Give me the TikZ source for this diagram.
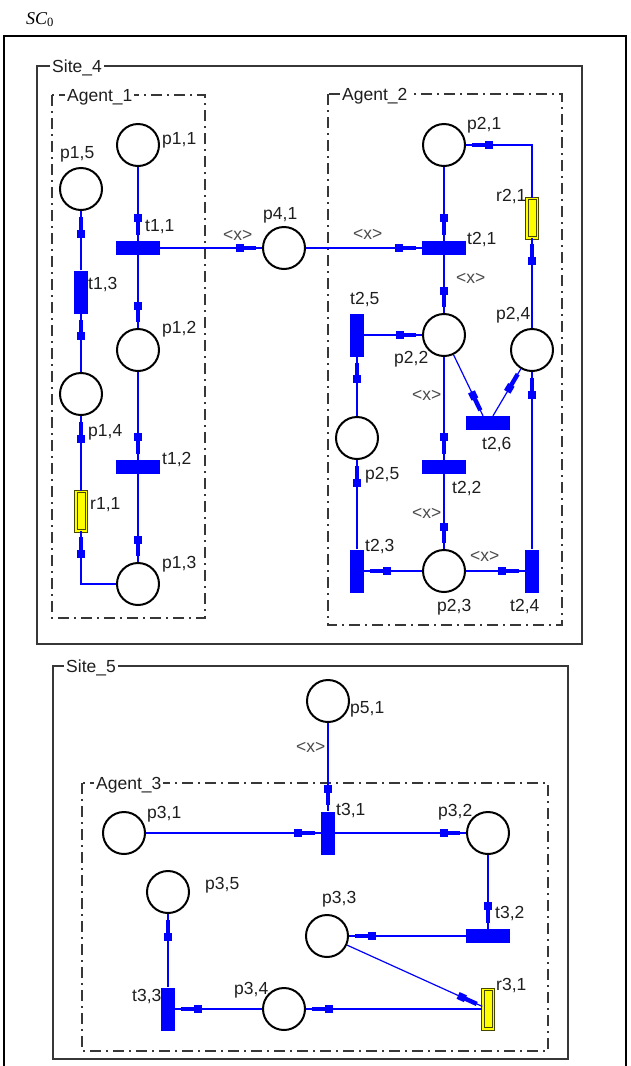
\documentclass[tikz,border=0pt]{standalone}
\usepackage{fontspec}
\setmainfont{Liberation Sans}
\newfontfamily\titlefont{Liberation Serif}
\usetikzlibrary{decorations.markings}

\definecolor{pnblue}{RGB}{0,0,255}
\definecolor{pnyellow}{RGB}{255,255,0}
\definecolor{pnolive}{RGB}{70,70,0}
\definecolor{boxgray}{RGB}{55,55,55}
\definecolor{txt}{RGB}{30,30,30}
\definecolor{inscr}{RGB}{75,75,75}

\begin{document}
\begin{tikzpicture}[x=1pt,y=-1pt,
  place/.style={circle, draw=black, line width=2pt, fill=white, minimum size=42pt, inner sep=0pt},
  htrans/.style={rectangle, fill=pnblue, minimum width=44pt, minimum height=14pt, inner sep=0pt},
  vtrans/.style={rectangle, fill=pnblue, minimum width=14pt, minimum height=43pt, inner sep=0pt},
  resource/.style={rectangle, draw=pnolive, line width=1pt, double=pnyellow, double distance=1.5pt,
                   fill=pnyellow, minimum width=10.5pt, minimum height=39.5pt, inner sep=0pt},
  lbl/.style={anchor=base west, inner sep=0pt, font=\fontsize{17.5}{20}\selectfont, text=txt},
  insc/.style={lbl, text=inscr},
  regtitle/.style={anchor=base west, inner xsep=2pt, inner ysep=1pt, fill=white,
                   font=\fontsize{17.5}{20}\selectfont, text=txt},
  sitebox/.style={draw=boxgray, line width=1.4pt},
  agentbox/.style={draw=boxgray, line width=1.2pt, dash pattern=on 11pt off 5pt on 2pt off 5pt},
  pnarc/.style={draw=pnblue, line width=1.2pt, postaction={decorate},
    decoration={markings, mark=at position -6pt with {
      \fill[pnblue] (-13pt,-2.2pt) rectangle (0pt,2.2pt);
      \fill[pnblue] (-20.5pt,-3.7pt) rectangle (-12.5pt,3.7pt);}}}
]
\useasboundingbox (0,0) rectangle (630,1066);

% caption
\node[anchor=base west, inner sep=0pt, font=\titlefont\itshape\fontsize{18}{20}\selectfont] (cap)
  at (26,24) {SC\textsubscript{\upshape 0}};

% outer frame (open at the bottom)
\draw[line width=2.4pt] (4,1080) -- (4,36) -- (626,36) -- (626,1080);

% sites and agents
\draw[sitebox] (37,66) rectangle (582,644);
\draw[agentbox] (52,95) rectangle (205,618);
\draw[agentbox] (328,94) rectangle (562,625);
\draw[sitebox] (53,666) rectangle (568,1059);
\draw[agentbox] (82,783) rectangle (548,1051);

\node[regtitle] (site4) at (50,72) {Site\_4};
\node[regtitle] (agent1) at (65,101) {Agent\_1};
\node[regtitle] (agent2) at (340,100) {Agent\_2};
\node[regtitle] (site5) at (64,672) {Site\_5};
\node[regtitle] (agent3) at (94,789) {Agent\_3};

% ---- Agent_1 ----
\node[place] (p11) at (138,145) {};
\node[place] (p15) at (81,189) {};
\node[htrans] (t11) at (138,248) {};
\node[vtrans] (t13) at (81,292) {};
\node[place] (p12) at (138,350) {};
\node[place] (p14) at (81,394) {};
\node[htrans] (t12) at (138,467) {};
\node[resource] (r11) at (81,511) {};
\node[place] (p13) at (138,584) {};

% ---- shared place ----
\node[place] (p41) at (284,248) {};

% ---- Agent_2 ----
\node[place] (p21) at (444,145) {};
\node[resource] (r21) at (532,218) {};
\node[htrans] (t21) at (444,248) {};
\node[place] (p22) at (444,335) {};
\node[vtrans] (t25) at (357,335) {};
\node[place] (p24) at (532,350) {};
\node[htrans] (t26) at (488,423) {};
\node[place] (p25) at (357,438) {};
\node[htrans] (t22) at (444,467) {};
\node[vtrans] (t23) at (357,571) {};
\node[place] (p23) at (444,571) {};
\node[vtrans] (t24) at (532,571) {};

% ---- Site_5 / Agent_3 ----
\node[place] (p51) at (328,701) {};
\node[vtrans] (t31) at (328,833) {};
\node[place] (p31) at (124,833) {};
\node[place] (p32) at (488,833) {};
\node[htrans] (t32) at (488,936) {};
\node[place] (p33) at (327,936) {};
\node[resource] (r31) at (488,1009) {};
\node[place] (p34) at (284,1009) {};
\node[vtrans] (t33) at (168,1009) {};
\node[place] (p35) at (168,892) {};

% ---- arcs ----
\draw[pnarc] (p11) -- (t11);
\draw[pnarc] (t11) -- (p12);
\draw[pnarc] (t11) -- (p41);
\draw[pnarc] (p41) -- (t21);
\draw[pnarc] (p12) -- (t12);
\draw[pnarc] (t12) -- (p13);
\draw[pnarc] (p13) -| (r11);
\draw[pnarc] (r11) -- (p14);
\draw[pnarc] (p14) -- (t13);
\draw[pnarc] (t13) -- (p15);

\draw[pnarc] (p21) -- (t21);
\draw[pnarc] (t21) -- (p22);
\draw[pnarc] (t25) -- (p22);
\draw[pnarc] (p25) -- (t25);
\draw[pnarc] (t23) -- (p25);
\draw[pnarc] (p23) -- (t23);
\draw[pnarc] (p22) -- (t22);
\draw[pnarc] (t22) -- (p23);
\draw[pnarc] (p23) -- (t24);
\draw[pnarc] (t24) -- (p24);
\draw[pnarc] (p24) -- (r21);
\draw[pnarc] (r21) |- (p21);
\draw[pnarc] (p22) -- ([xshift=-5pt]t26.north);
\draw[pnarc] ([xshift=5pt]t26.north) -- (p24);

\draw[pnarc] (p51) -- (t31);
\draw[pnarc] (p31) -- (t31);
\draw[pnarc] (t31) -- (p32);
\draw[pnarc] (p32) -- (t32);
\draw[pnarc] (t32) -- (p33);
\draw[pnarc] (p33) -- (r31);
\draw[pnarc] (r31) -- (p34);
\draw[pnarc] (p34) -- (t33);
\draw[pnarc] (t33) -- (p35);

% ---- names ----
\node[lbl] (lp11) at (162,144) {p1,1};
\node[lbl] (lp15) at (60,158) {p1,5};
\node[lbl] (lt11) at (145,231) {t1,1};
\node[lbl] (lp41) at (263,219) {p4,1};
\node[lbl] (lt13) at (88,289) {t1,3};
\node[lbl] (lp12) at (162,333) {p1,2};
\node[lbl] (lp14) at (88,436) {p1,4};
\node[lbl] (lt12) at (162,464) {t1,2};
\node[lbl] (lr11) at (90,509) {r1,1};
\node[lbl] (lp13) at (162,568) {p1,3};

\node[lbl] (lp21) at (467,129) {p2,1};
\node[lbl] (lr21) at (496,201) {r2,1};
\node[lbl] (lt21) at (467,244) {t2,1};
\node[lbl] (lt25) at (350,304) {t2,5};
\node[lbl] (lp24) at (496,319) {p2,4};
\node[lbl] (lp22) at (394,363) {p2,2};
\node[lbl] (lt26) at (482,449) {t2,6};
\node[lbl] (lp25) at (365,479) {p2,5};
\node[lbl] (lt22) at (452,493) {t2,2};
\node[lbl] (lt23) at (365,551) {t2,3};
\node[lbl] (lp23) at (437,611) {p2,3};
\node[lbl] (lt24) at (510,611) {t2,4};

\node[lbl] (lp51) at (350,713) {p5,1};
\node[lbl] (lt31) at (336,815) {t3,1};
\node[lbl] (lp31) at (147,818) {p3,1};
\node[lbl] (lp32) at (438,816) {p3,2};
\node[lbl] (lp35) at (205,889) {p3,5};
\node[lbl] (lp33) at (322,903) {p3,3};
\node[lbl] (lt32) at (495,918) {t3,2};
\node[lbl] (lr31) at (496,990) {r3,1};
\node[lbl] (lp34) at (234,994) {p3,4};
\node[lbl] (lt33) at (132,1001) {t3,3};

% ---- arc inscriptions ----
\node[insc] (x1) at (223,240) {<x>};
\node[insc] (x2) at (353,239) {<x>};
\node[insc] (x3) at (456,283) {<x>};
\node[insc] (x4) at (412,400) {<x>};
\node[insc] (x5) at (412,518) {<x>};
\node[insc] (x6) at (470,561) {<x>};
\node[insc] (x7) at (296,752) {<x>};
\end{tikzpicture}
\end{document}
